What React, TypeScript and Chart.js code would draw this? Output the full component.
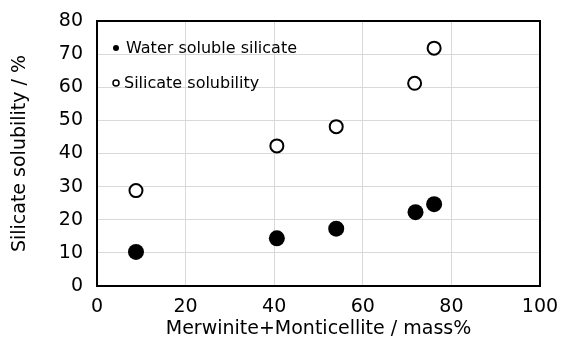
import React, { useEffect, useRef } from "react";
import { Chart, registerables } from "chart.js";

Chart.register(...registerables);

const seriesLabels = ["Water soluble silicate", "Silicate solubility"];
const mineralContent = [8.8, 40.6, 54.0, 71.9, 76.1];
const waterSoluble = [10.3, 14.4, 17.3, 22.3, 24.7];
const mineralContent2 = [8.8, 40.6, 54.0, 71.7, 76.1];
const solubility = [28.8, 42.3, 48.1, 61.2, 71.8];
const xTicks = [0, 20, 40, 60, 80, 100];
const yTicks = [0, 10, 20, 30, 40, 50, 60, 70, 80];
const xTitle = "Merwinite+Monticellite / mass%";
const yTitle = "Silicate solubility / %";

const AXIS_FONT = "'DejaVu Sans', sans-serif";

const frameAndLegend = {
  id: "frameAndLegend",
  beforeDatasetsDraw(chart: any) {
    const { ctx, chartArea } = chart;
    ctx.save();
    ctx.strokeStyle = "#000";
    ctx.lineWidth = 2;
    ctx.strokeRect(chartArea.left, chartArea.top, chartArea.right - chartArea.left, chartArea.bottom - chartArea.top);
    ctx.restore();
  },
  afterDatasetsDraw(chart: any) {
    const { ctx, chartArea } = chart;
    ctx.save();
    ctx.font = "16px 'DejaVu Sans', sans-serif";
    ctx.textBaseline = "middle";
    ctx.fillStyle = "#000";
    chart.data.datasets.forEach((ds: any, i: number) => {
      const cx = chartArea.left + 19;
      const cy = chartArea.top + 27 + i * 35;
      ctx.beginPath();
      if (i === 0) {
        ctx.arc(cx, cy, 3, 0, Math.PI * 2);
        ctx.fillStyle = "#000";
        ctx.fill();
      } else {
        ctx.arc(cx, cy, 3, 0, Math.PI * 2);
        ctx.fillStyle = "#fff";
        ctx.fill();
        ctx.lineWidth = 1.5;
        ctx.strokeStyle = "#000";
        ctx.stroke();
      }
      ctx.fillStyle = "#000";
      ctx.fillText(ds.label, chartArea.left + (i === 0 ? 29 : 27), cy + 1);
    });
    ctx.restore();
  },
};

export default function App() {
  const ref = useRef<HTMLCanvasElement | null>(null);
  useEffect(() => {
    document.body.style.margin = "0";
    if (!ref.current) return;
    const chart = new Chart(ref.current, {
      type: "scatter",
      data: {
        datasets: [
          {
            label: seriesLabels[0],
            data: mineralContent.map((x, i) => ({ x, y: waterSoluble[i] })),
            backgroundColor: "#000",
            borderColor: "#000",
            borderWidth: 0,
            pointRadius: 8,
            pointHoverRadius: 8,
          },
          {
            label: seriesLabels[1],
            data: mineralContent2.map((x, i) => ({ x, y: solubility[i] })),
            backgroundColor: "#fff",
            borderColor: "#000",
            borderWidth: 2,
            pointRadius: 6.5,
            pointHoverRadius: 6.5,
          },
        ],
      },
      options: {
        animation: false,
        responsive: false,
        maintainAspectRatio: false,
        layout: { padding: { top: 21, right: 24, left: 0, bottom: 0 } },
        plugins: { legend: { display: false }, tooltip: { enabled: false } },
        scales: {
          x: {
            type: "linear",
            min: 0,
            max: 100,
            afterBuildTicks: (s: any) => {
              s.ticks = xTicks.map((v) => ({ value: v }));
            },
            afterFit: (s: any) => {
              s.height = 57;
            },
            grid: { color: "#d9d9d9", lineWidth: 1, drawTicks: true, tickLength: 10, tickColor: "rgba(0,0,0,0)" },
            border: { display: false },
            ticks: { color: "#000", padding: 0, font: { family: AXIS_FONT, size: 19, lineHeight: 1.2 }, maxRotation: 0 },
            title: { display: true, text: xTitle, color: "#000", padding: { top: 0, bottom: 3 }, font: { family: AXIS_FONT, size: 19, lineHeight: 1.2 } },
          },
          y: {
            type: "linear",
            min: 0,
            max: 80,
            afterBuildTicks: (s: any) => {
              s.ticks = yTicks.map((v) => ({ value: v }));
            },
            afterFit: (s: any) => {
              s.width = 97;
            },
            grid: { color: "#d9d9d9", lineWidth: 1, drawTicks: true, tickLength: 14, tickColor: "rgba(0,0,0,0)" },
            border: { display: false },
            ticks: { color: "#000", padding: 0, font: { family: AXIS_FONT, size: 19, lineHeight: 1.2 } },
            title: { display: true, text: yTitle, color: "#000", padding: { top: 9, bottom: 0 }, font: { family: AXIS_FONT, size: 19, lineHeight: 1.2 } },
          },
        },
      },
      plugins: [frameAndLegend],
    });
    return () => chart.destroy();
  }, []);
  return (
    <div style={{ width: 564, height: 343, background: "#fff" }}>
      <canvas ref={ref} width={564} height={343} style={{ display: "block" }} />
    </div>
  );
}
